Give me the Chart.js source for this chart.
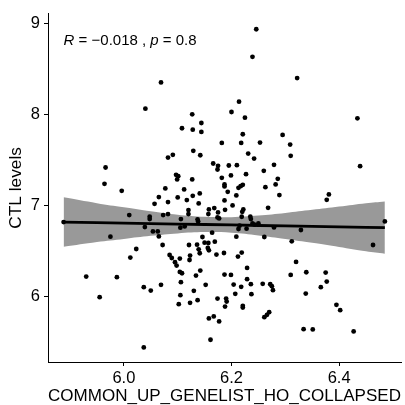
<!DOCTYPE html>
<html>
<head>
<meta charset="utf-8">
<script src="https://cdn.jsdelivr.net/npm/chart.js@4.4.1/dist/chart.umd.min.js"></script>
<style>
  html, body { margin: 0; padding: 0; background: #fff; }
  #wrap { width: 405px; height: 405px; }
</style>
</head>
<body>
<div id="wrap"><canvas id="chart" width="405" height="405"></canvas></div>
<script>
// scatter values
const geneScore = [
  6.246, 6.239, 6.322, 6.069, 6.040, 6.214, 6.200, 6.225, 6.127, 6.434,
  6.108, 6.128, 6.144, 6.144, 6.221, 6.295, 6.182, 6.218, 6.253, 6.309,
  6.129, 6.231, 6.142, 6.310, 6.242, 6.082, 6.091, 5.966, 6.439, 6.166,
  6.175, 6.174, 6.195, 6.210, 6.279, 6.260, 6.227, 6.097, 6.101, 6.199,
  6.182, 6.286, 6.099, 5.964, 5.996, 6.077, 6.127, 6.187, 6.187, 6.217,
  6.221, 6.263, 6.282, 6.193, 6.213, 6.128, 6.141, 6.209, 6.289, 6.381,
  6.065, 6.082, 6.100, 6.117, 6.187, 6.377, 6.057, 6.139, 6.168, 6.202,
  6.120, 6.120, 6.158, 6.175, 6.222, 6.268, 6.188, 6.010, 6.073, 6.082,
  6.048, 6.048, 6.106, 6.137, 6.138, 6.157, 6.174, 6.177, 6.235, 6.236,
  6.220, 6.219, 5.888, 6.485, 6.039, 6.105, 6.113, 6.054, 6.063, 6.065,
  5.975, 6.164, 6.209, 6.213, 6.215, 6.228, 6.239, 6.243, 6.250, 6.261,
  6.279, 6.329, 6.146, 6.150, 6.157, 6.169, 6.072, 6.121, 6.136, 6.139,
  6.156, 6.158, 6.023, 6.312, 6.463, 6.123, 6.141, 6.172, 6.186, 6.212,
  6.219, 6.012, 6.085, 6.089, 6.104, 6.122, 6.095, 6.098, 6.320, 6.112,
  6.104, 6.108, 6.142, 6.134, 6.229, 5.930, 5.987, 6.187, 6.199, 6.310,
  6.339, 6.375, 6.106, 6.152, 6.204, 6.229, 6.236, 6.218, 6.258, 6.272,
  6.275, 6.277, 6.037, 6.050, 6.069, 6.130, 6.377, 6.366, 5.955, 6.105,
  6.137, 6.123, 6.102, 6.174, 6.190, 6.191, 6.188, 6.207, 6.237, 6.338,
  6.221, 6.221, 6.395, 6.402, 6.158, 6.167, 6.177, 6.261, 6.266, 6.270,
  6.334, 6.351, 6.427, 6.161, 6.037
];
const ctlLevel = [
  8.941, 8.637, 8.403, 8.355, 8.066, 8.143, 8.029, 7.967, 8.004, 7.960,
  7.850, 7.835, 7.908, 7.810, 7.784, 7.777, 7.689, 7.689, 7.692, 7.670,
  7.601, 7.571, 7.553, 7.546, 7.516, 7.527, 7.557, 7.418, 7.432, 7.462,
  7.436, 7.396, 7.440, 7.443, 7.447, 7.381, 7.344, 7.337, 7.322, 7.330,
  7.304, 7.293, 7.286, 7.238, 7.161, 7.187, 7.286, 7.231, 7.209, 7.212,
  7.227, 7.201, 7.231, 7.150, 7.194, 7.106, 7.132, 7.110, 7.114, 7.121,
  7.092, 7.037, 7.088, 7.059, 7.055, 7.062, 7.018, 7.022, 6.971, 7.000,
  6.949, 6.905, 6.956, 6.923, 6.956, 6.974, 6.952, 6.894, 6.894, 6.905,
  6.875, 6.850, 6.850, 6.846, 6.824, 6.905, 6.868, 6.857, 6.875, 6.850,
  6.930, 6.875, 6.817, 6.824, 6.762, 6.755, 6.769, 6.714, 6.714, 6.659,
  6.656, 6.700, 6.656, 6.740, 6.777, 6.744, 6.802, 6.788, 6.802, 6.652,
  6.758, 6.729, 6.652, 6.590, 6.586, 6.601, 6.564, 6.564, 6.568, 6.516,
  6.531, 6.505, 6.520, 6.604, 6.564, 6.447, 6.473, 6.458, 6.476, 6.436,
  6.480, 6.425, 6.454, 6.421, 6.414, 6.399, 6.374, 6.337, 6.377, 7.176,
  6.267, 6.253, 6.282, 6.227, 6.311, 6.216, 6.209, 6.238, 6.234, 6.234,
  6.264, 6.260, 6.154, 6.125, 6.128, 6.187, 6.132, 6.103, 6.136, 6.132,
  6.110, 6.066, 6.099, 6.062, 6.125, 6.059, 6.161, 6.099, 5.989, 6.011,
  5.956, 5.927, 5.912, 5.974, 5.974, 5.941, 5.886, 6.026, 6.022, 6.029,
  5.894, 5.875, 5.905, 5.846, 5.755, 5.777, 5.722, 5.769, 5.795, 5.824,
  5.637, 5.634, 5.612, 5.520, 5.436
];

// fitted line and confidence band
const fitX     = [5.888, 5.95, 6.0, 6.05, 6.1, 6.15, 6.2, 6.25, 6.3, 6.35, 6.4, 6.45, 6.485];
const fitY     = [6.817, 6.811, 6.805, 6.800, 6.795, 6.790, 6.785, 6.779, 6.774, 6.769, 6.764, 6.759, 6.755];
const bandHigh = [7.090, 7.025, 6.979, 6.936, 6.898, 6.874, 6.871, 6.888, 6.917, 6.951, 6.987, 7.024, 7.043];
const bandLow  = [6.544, 6.597, 6.631, 6.665, 6.692, 6.706, 6.699, 6.670, 6.631, 6.588, 6.542, 6.494, 6.467];

const xTicks = [6.0, 6.2, 6.4];
const yTicks = [6, 7, 8, 9];
const xRange = [5.859, 6.515];
const yRange = [5.275, 9.11];

const statR = '\u22120.018';
const statP = '0.8';
const statPos = [5.888, 8.81];

const FONT = "'Liberation Sans', Arial, Helvetica, sans-serif";

const toPts = (xs, ys) => xs.map((x, i) => ({ x: x, y: ys[i] }));

const statLabel = {
  id: 'statLabel',
  afterDatasetsDraw(chart) {
    const ctx = chart.ctx;
    const x0 = chart.scales.x.getPixelForValue(statPos[0]);
    const y0 = chart.scales.y.getPixelForValue(statPos[1]);
    const parts = [
      ['italic', 'R'], ['normal', ' = '], ['normal', statR], ['normal', ' , '],
      ['italic', 'p'], ['normal', ' = '], ['normal', statP]
    ];
    ctx.save();
    ctx.fillStyle = '#000';
    ctx.textBaseline = 'middle';
    ctx.textAlign = 'left';
    let x = x0;
    parts.forEach(p => {
      ctx.font = p[0] + ' 15px ' + FONT;
      ctx.fillText(p[1], x, y0);
      x += ctx.measureText(p[1]).width;
    });
    ctx.restore();
  }
};

const ctx = document.getElementById('chart').getContext('2d');
new Chart(ctx, {
  type: 'scatter',
  data: {
    datasets: [
      {
        type: 'line',
        data: toPts(fitX, fitY),
        borderColor: '#000',
        borderWidth: 2.8,
        pointRadius: 0,
        fill: false,
        order: 0
      },
      {
        data: toPts(geneScore, ctlLevel),
        backgroundColor: '#000',
        borderWidth: 0,
        pointRadius: 2.4,
        order: 1
      },
      {
        type: 'line',
        data: toPts(fitX, bandHigh),
        borderWidth: 0,
        borderColor: 'rgba(0,0,0,0)',
        backgroundColor: '#999999',
        pointRadius: 0,
        tension: 0.4,
        fill: '+1',
        order: 2
      },
      {
        type: 'line',
        data: toPts(fitX, bandLow),
        borderWidth: 0,
        borderColor: 'rgba(0,0,0,0)',
        pointRadius: 0,
        tension: 0.4,
        fill: false,
        order: 3
      }
    ]
  },
  options: {
    responsive: false,
    animation: false,
    layout: { padding: { top: 13, right: 1, bottom: 0, left: 0 } },
    plugins: {
      legend: { display: false },
      tooltip: { enabled: false }
    },
    scales: {
      x: {
        type: 'linear',
        min: xRange[0],
        max: xRange[1],
        afterBuildTicks: s => { s.ticks = xTicks.map(v => ({ value: v })); },
        afterFit: s => { s.height = 43; },
        grid: { display: true, drawOnChartArea: false, drawTicks: true, tickLength: 4, color: '#000', lineWidth: 1 },
        border: { display: true, color: '#000', width: 1 },
        ticks: {
          color: '#000',
          padding: 2.5,
          font: { family: FONT, size: 16.5 },
          callback: v => v.toFixed(1)
        },
        title: {
          display: true,
          text: 'COMMON_UP_GENELIST_HO_COLLAPSED',
          color: '#000',
          font: { family: FONT, size: 17.3, lineHeight: 1 },
          padding: { top: 0, bottom: 0 }
        }
      },
      y: {
        type: 'linear',
        min: yRange[0],
        max: yRange[1],
        afterBuildTicks: s => { s.ticks = yTicks.map(v => ({ value: v })); },
        afterFit: s => { s.width = 48; },
        grid: { display: true, drawOnChartArea: false, drawTicks: true, tickLength: 4, color: '#000', lineWidth: 1 },
        border: { display: true, color: '#000', width: 1 },
        ticks: {
          color: '#000',
          padding: 4,
          font: { family: FONT, size: 16.5 },
          callback: v => String(v)
        },
        title: {
          display: true,
          text: 'CTL levels',
          color: '#000',
          font: { family: FONT, size: 17.3, lineHeight: 1 },
          padding: { top: 8, bottom: 0 }
        }
      }
    }
  },
  plugins: [statLabel]
});
</script>
</body>
</html>
